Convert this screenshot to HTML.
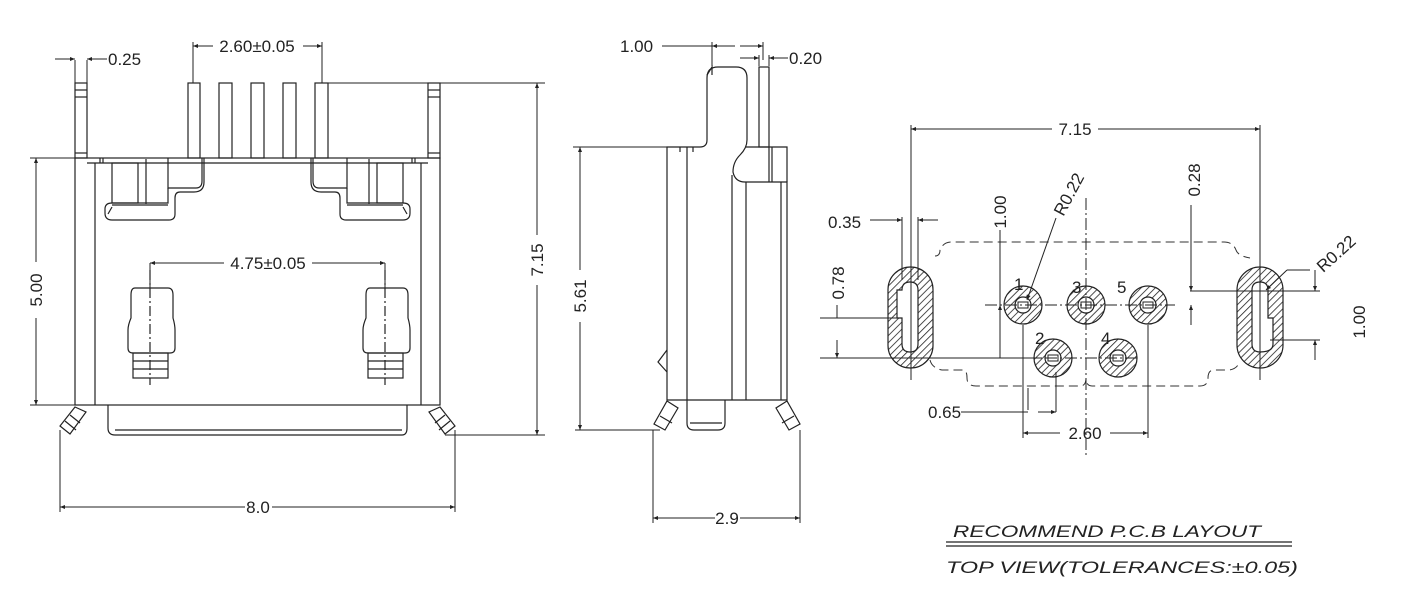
<!DOCTYPE html>
<html><head><meta charset="utf-8"><style>
html,body{margin:0;padding:0;background:#fff;}
svg{display:block;}
text{font-family:"Liberation Sans",sans-serif;fill:#222;font-size:17px;}
</style></head><body>
<svg width="1410" height="602" viewBox="0 0 1410 602" xmlns="http://www.w3.org/2000/svg">
<defs>
<pattern id="h" patternUnits="userSpaceOnUse" width="5" height="5" patternTransform="rotate(45)">
<line x1="0" y1="0" x2="0" y2="5" stroke="#222" stroke-width="1.6"/>
</pattern>
<marker id="a" viewBox="0 0 10 10" refX="10" refY="5" markerWidth="9" markerHeight="5" orient="auto-start-reverse" markerUnits="userSpaceOnUse"><path d="M0,1 L10,5 L0,9 z" fill="#222"/></marker>
</defs>
<g fill="none" stroke="#222" stroke-width="1.2">
<rect x="75" y="158" width="365" height="247"/>
<line x1="95" y1="163" x2="95" y2="405"/>
<line x1="421" y1="163" x2="421" y2="405"/>
<line x1="87" y1="163" x2="428" y2="163"/>
<rect x="75" y="83" width="12" height="75"/>
<line x1="75" y1="90" x2="87" y2="90"/><line x1="75" y1="97" x2="87" y2="97"/><line x1="75" y1="153" x2="87" y2="153"/>
<rect x="428" y="83" width="12" height="75"/>
<line x1="428" y1="90" x2="440" y2="90"/><line x1="428" y1="97" x2="440" y2="97"/><line x1="428" y1="153" x2="440" y2="153"/>
<rect x="188" y="83" width="12" height="75"/>
<rect x="219" y="83" width="13" height="75"/>
<rect x="251" y="83" width="13" height="75"/>
<rect x="283" y="83" width="13" height="75"/>
<rect x="315" y="83" width="13" height="75"/>
<g id="latch">
<rect x="112" y="163" width="26" height="40"/>
<line x1="146" y1="159" x2="146" y2="204"/>
<line x1="100" y1="158" x2="100" y2="163"/><line x1="103" y1="158" x2="103" y2="163"/>
<path d="M168,158 V188 H196 Q202,188 202,181 V158"/>
<path d="M204,158 V182 Q204,192 194,192 H180 Q175,192 175,198 V214 Q175,220 169,220 H112 Q105,220 105,213 V209 Q105,203 112,203 H168 V188"/>
<line x1="112" y1="205" x2="168" y2="205"/>
<line x1="108" y1="214" x2="112" y2="207"/>
</g>
<use href="#latch" transform="translate(515,0) scale(-1,1)"/>
<g id="pad">
<path d="M135,288 H168 Q173,288 173,295 V318 Q175,325 175,330 V348 Q175,353 170,353 H133 Q128,353 128,348 V330 Q128,325 131,318 V295 Q131,288 135,288 Z"/>
<rect x="133" y="353" width="35" height="25"/>
<line x1="133" y1="361" x2="168" y2="361"/><line x1="133" y1="369" x2="168" y2="369"/>
<line x1="150" y1="270" x2="150" y2="385" stroke-dasharray="10,3,2,3"/>
</g>
<use href="#pad" transform="translate(235,0)"/>
<path d="M108,405 V428 Q108,435 115,435 H402 Q407,435 407,428 V405"/>
<line x1="115" y1="430" x2="402" y2="430"/>
<path d="M75,407 L86,412 L70,434 L60,426 Z"/>
<line x1="65" y1="421" x2="76" y2="430"/><line x1="70" y1="415" x2="80" y2="423"/>
<path d="M440,407 L429,412 L445,434 L455,426 Z"/>
<line x1="450" y1="421" x2="439" y2="430"/><line x1="445" y1="415" x2="435" y2="423"/>
</g>
<g stroke="#222" stroke-width="1" fill="none">
<line x1="75" y1="60" x2="75" y2="83"/><line x1="87" y1="60" x2="87" y2="83"/>
<line x1="55" y1="59" x2="75" y2="59" marker-end="url(#a)"/>
<line x1="107" y1="59" x2="87" y2="59" marker-end="url(#a)"/>
<line x1="193" y1="42" x2="193" y2="83"/><line x1="322" y1="42" x2="322" y2="83"/>
<line x1="213" y1="46" x2="193" y2="46" marker-end="url(#a)"/>
<line x1="303" y1="46" x2="322" y2="46" marker-end="url(#a)"/>
<line x1="328" y1="83" x2="545" y2="83"/><line x1="445" y1="435" x2="545" y2="435"/>
<line x1="537" y1="235" x2="537" y2="83" marker-end="url(#a)"/>
<line x1="537" y1="285" x2="537" y2="435" marker-end="url(#a)"/>
<line x1="30" y1="158" x2="75" y2="158"/><line x1="30" y1="405" x2="75" y2="405"/>
<line x1="36" y1="262" x2="36" y2="158" marker-end="url(#a)"/>
<line x1="36" y1="318" x2="36" y2="405" marker-end="url(#a)"/>
<line x1="60" y1="430" x2="60" y2="512"/><line x1="455" y1="430" x2="455" y2="512"/>
<line x1="245" y1="507" x2="60" y2="507" marker-end="url(#a)"/>
<line x1="272" y1="507" x2="455" y2="507" marker-end="url(#a)"/>
<line x1="150" y1="263" x2="150" y2="290"/><line x1="385" y1="263" x2="385" y2="290"/>
<line x1="224" y1="263" x2="150" y2="263" marker-end="url(#a)"/>
<line x1="312" y1="263" x2="385" y2="263" marker-end="url(#a)"/>
</g>
<text x="108" y="65">0.25</text>
<text x="257" y="52" text-anchor="middle">2.60±0.05</text>
<text x="268" y="269" text-anchor="middle">4.75±0.05</text>
<text x="258" y="513" text-anchor="middle">8.0</text>
<text transform="translate(543,260) rotate(-90)" text-anchor="middle">7.15</text>
<text transform="translate(42,290) rotate(-90)" text-anchor="middle">5.00</text>

<g fill="none" stroke="#222" stroke-width="1.2">
<path d="M667,147 H700 Q707,147 707,140 V78 Q707,67 718,67 H736 Q747,67 747,78 V140 Q747,148 740,155 Q733,162 733,172 Q735,182 745,182 H787 V400 H667 Z"/>
<line x1="687" y1="147" x2="687" y2="400"/>
<line x1="732" y1="175" x2="732" y2="400"/>
<line x1="746" y1="182" x2="746" y2="400"/>
<line x1="781" y1="182" x2="781" y2="400"/>
<rect x="759" y="67" width="10" height="80"/>
<path d="M746,147 H787 V182"/>
<line x1="769" y1="147" x2="769" y2="182"/><line x1="772" y1="147" x2="772" y2="182"/>
<line x1="680" y1="147" x2="680" y2="152"/><line x1="693" y1="147" x2="693" y2="152"/>
<path d="M707,75 L712,67 L712,75"/>
<path d="M667,350 L658,362 L667,372"/>
<path d="M687,400 V423 Q687,430 694,430 H718 Q725,430 725,423 V400"/>
<line x1="690" y1="423" x2="722" y2="423"/>
<path d="M667,401 L678,408 L665,430 L654,424 Z"/><line x1="660" y1="416" x2="672" y2="423"/>
<path d="M787,401 L776,408 L789,430 L800,424 Z"/><line x1="794" y1="416" x2="782" y2="423"/>
</g>
<g stroke="#222" stroke-width="1" fill="none">
<line x1="573" y1="147" x2="700" y2="147"/><line x1="575" y1="430" x2="660" y2="430"/>
<line x1="580" y1="270" x2="580" y2="147" marker-end="url(#a)"/>
<line x1="580" y1="322" x2="580" y2="430" marker-end="url(#a)"/>
<line x1="653" y1="430" x2="653" y2="523"/><line x1="800" y1="430" x2="800" y2="523"/>
<line x1="715" y1="518" x2="653" y2="518" marker-end="url(#a)"/>
<line x1="740" y1="518" x2="800" y2="518" marker-end="url(#a)"/>
<line x1="712" y1="42" x2="712" y2="66"/><line x1="763" y1="42" x2="763" y2="60"/>
<line x1="662" y1="46" x2="712" y2="46"/>
<line x1="735" y1="46" x2="712" y2="46" marker-end="url(#a)"/>
<line x1="740" y1="46" x2="763" y2="46" marker-end="url(#a)"/>
<line x1="740" y1="58" x2="759" y2="58" marker-end="url(#a)"/>
<line x1="788" y1="58" x2="769" y2="58" marker-end="url(#a)"/>
<line x1="759" y1="55" x2="759" y2="66"/><line x1="769" y1="55" x2="769" y2="66"/>
</g>
<text x="620" y="52">1.00</text>
<text x="789" y="64">0.20</text>
<text x="727" y="524" text-anchor="middle">2.9</text>
<text transform="translate(586,296) rotate(-90)" text-anchor="middle">5.61</text>

<g fill="none" stroke="#333" stroke-width="1" stroke-dasharray="9,5">
<path d="M935,256 Q940,256 940,250 Q943,242 952,242 H1224 Q1233,242 1236,250 Q1238,256 1250,258"/>
<path d="M930,360 Q932,368 942,370 H963 Q967,370 967,378 Q967,386 976,386 H1080 Q1086,386 1086,378 Q1086,386 1092,386 H1200 Q1208,386 1208,378 Q1208,370 1214,370 H1228 Q1236,370 1240,362"/>
</g>
<g stroke="#222" stroke-width="1.2">
<rect x="888" y="267" width="45" height="101" rx="22.5" fill="url(#h)"/>
<path d="M902,290 Q902,282 910,282 Q918,282 918,290 V344 Q918,352 910,352 Q902,352 902,344 V318 H897 V290 Z" fill="#fff"/>
<rect x="1237" y="267" width="46" height="101" rx="23" fill="url(#h)"/>
<path d="M1252,290 Q1252,282 1260,282 Q1268,282 1268,290 V318 H1273 V344 Q1273,352 1260,352 Q1252,352 1252,344 Z" fill="#fff"/>
<g fill="url(#h)">
<circle cx="1023" cy="305" r="19"/><circle cx="1086" cy="305" r="19"/><circle cx="1148" cy="305" r="19"/>
<circle cx="1053" cy="358" r="19"/><circle cx="1118" cy="358" r="19"/>
</g>
<g fill="#fff">
<circle cx="1023" cy="305" r="8"/><circle cx="1086" cy="305" r="8"/><circle cx="1148" cy="305" r="8"/>
<circle cx="1053" cy="358" r="8"/><circle cx="1118" cy="358" r="8"/>
</g>
<g fill="none" stroke-width="1">
<rect x="1018" y="302" width="10" height="6"/><rect x="1081" y="302" width="10" height="6"/><rect x="1143" y="302" width="10" height="6"/>
<rect x="1048" y="355" width="10" height="6"/><rect x="1113" y="355" width="10" height="6"/>
</g>
</g>
<g stroke="#222" stroke-width="1" fill="none">
<line x1="1086" y1="198" x2="1086" y2="455" stroke-dasharray="12,3,2,3"/>
<line x1="985" y1="305" x2="1175" y2="305" stroke-dasharray="12,3,2,3"/>
<line x1="1025" y1="358" x2="1140" y2="358" stroke-dasharray="12,3,2,3"/>
<line x1="911" y1="125" x2="911" y2="380"/><line x1="1260" y1="125" x2="1260" y2="380"/>
<line x1="1052" y1="129" x2="911" y2="129" marker-end="url(#a)"/>
<line x1="1098" y1="129" x2="1260" y2="129" marker-end="url(#a)"/>
<line x1="902" y1="217" x2="902" y2="280"/><line x1="918" y1="217" x2="918" y2="280"/>
<line x1="870" y1="220" x2="902" y2="220" marker-end="url(#a)"/>
<line x1="938" y1="220" x2="918" y2="220" marker-end="url(#a)"/>
<line x1="820" y1="318" x2="900" y2="318"/><line x1="820" y1="358" x2="1040" y2="358"/>
<line x1="837" y1="305" x2="837" y2="318" />
<line x1="837" y1="340" x2="837" y2="358" marker-end="url(#a)"/>
<line x1="1000" y1="230" x2="1000" y2="358" />
<line x1="1000" y1="320" x2="1000" y2="305" marker-end="url(#a)"/>
<line x1="1056" y1="218" x2="1027" y2="300" marker-end="url(#a)"/>
<line x1="1287" y1="270" x2="1266" y2="290" marker-end="url(#a)"/>
<line x1="1287" y1="270" x2="1310" y2="270"/>
<line x1="1191" y1="205" x2="1191" y2="291" marker-end="url(#a)"/>
<line x1="1191" y1="325" x2="1191" y2="305" marker-end="url(#a)"/>
<line x1="1190" y1="291" x2="1320" y2="291"/>
<line x1="1270" y1="340" x2="1320" y2="340"/>
<line x1="1315" y1="270" x2="1315" y2="291" marker-end="url(#a)"/>
<line x1="1315" y1="360" x2="1315" y2="340" marker-end="url(#a)"/>
<line x1="1023" y1="325" x2="1023" y2="438"/><line x1="1028" y1="388" x2="1028" y2="410"/>
<line x1="1056" y1="372" x2="1056" y2="412"/><line x1="1148" y1="325" x2="1148" y2="438"/>
<line x1="961" y1="412" x2="1028" y2="412"/>
<line x1="1038" y1="412" x2="1056" y2="412" marker-end="url(#a)"/>
<line x1="1060" y1="433" x2="1023" y2="433" marker-end="url(#a)"/>
<line x1="1110" y1="433" x2="1148" y2="433" marker-end="url(#a)"/>
<line x1="946" y1="542" x2="1292" y2="542" stroke-width="1.2"/>
<line x1="946" y1="546" x2="1292" y2="546" stroke-width="1.2"/>
</g>
<text x="1075" y="135" text-anchor="middle">7.15</text>
<text x="828" y="228">0.35</text>
<text transform="translate(844,283) rotate(-90)" text-anchor="middle">0.78</text>
<text transform="translate(1006,212) rotate(-90)" text-anchor="middle">1.00</text>
<text transform="translate(1074,197) rotate(-62)" text-anchor="middle">R0.22</text>
<text transform="translate(1200,180) rotate(-90)" text-anchor="middle">0.28</text>
<text transform="translate(1340,258) rotate(-42)" text-anchor="middle">R0.22</text>
<text transform="translate(1365,322) rotate(-90)" text-anchor="middle">1.00</text>
<text x="928" y="418">0.65</text>
<text x="1085" y="439" text-anchor="middle">2.60</text>
<text x="1014" y="290" font-size="18">1</text>
<text x="1072" y="293" font-size="18">3</text>
<text x="1117" y="293" font-size="18">5</text>
<text x="1035" y="344" font-size="18">2</text>
<text x="1101" y="344" font-size="18">4</text>
<text x="953" y="537" font-size="29" font-style="italic" textLength="308" lengthAdjust="spacingAndGlyphs">RECOMMEND  P.C.B  LAYOUT</text>
<text x="946" y="573" font-size="29" font-style="italic" textLength="352" lengthAdjust="spacingAndGlyphs">TOP  VIEW(TOLERANCES:±0.05)</text>
</svg>
</body></html>
